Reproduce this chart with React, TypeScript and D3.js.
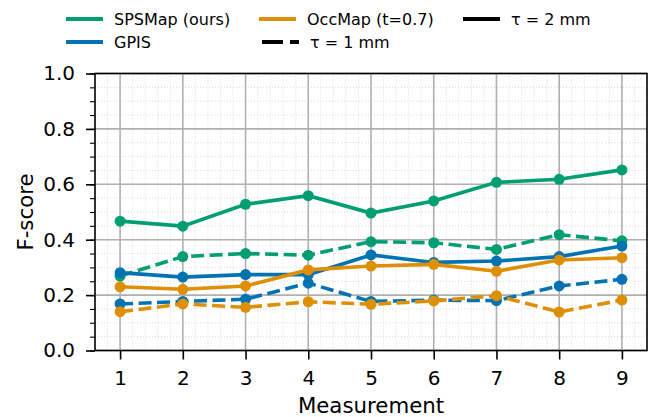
import * as d3 from "d3";
import { useEffect, useRef } from "react";

const measurements = [1, 2, 3, 4, 5, 6, 7, 8, 9];
const spsSolid = [0.467, 0.449, 0.528, 0.559, 0.496, 0.54, 0.607, 0.618, 0.652];
const spsDashed = [0.269, 0.339, 0.35, 0.344, 0.393, 0.389, 0.365, 0.418, 0.396];
const gpisSolid = [0.281, 0.265, 0.274, 0.274, 0.345, 0.318, 0.323, 0.339, 0.377];
const gpisDashed = [0.168, 0.177, 0.185, 0.243, 0.177, 0.182, 0.18, 0.233, 0.257];
const occSolid = [0.23, 0.221, 0.233, 0.291, 0.305, 0.311, 0.286, 0.327, 0.335];
const occDashed = [0.14, 0.168, 0.156, 0.176, 0.167, 0.179, 0.198, 0.139, 0.182];
const yTicks = [0, 0.2, 0.4, 0.6, 0.8, 1.0];

const GREEN = "#029e73";
const BLUE = "#0173b2";
const ORANGE = "#de8f05";
const FONT = "DejaVu Sans, sans-serif";

const series = [
  { values: spsSolid, color: GREEN, dashed: false },
  { values: spsDashed, color: GREEN, dashed: true },
  { values: gpisSolid, color: BLUE, dashed: false },
  { values: gpisDashed, color: BLUE, dashed: true },
  { values: occSolid, color: ORANGE, dashed: false },
  { values: occDashed, color: ORANGE, dashed: true },
];

const App = () => {
  const svgRef = useRef<SVGSVGElement>(null);

  useEffect(() => {
    const width = 657;
    const height = 417;
    const margin = { top: 73.5, right: 10, bottom: 66.5, left: 95 };

    const svg = d3.select(svgRef.current).attr("width", width).attr("height", height);
    svg.selectAll("*").remove();

    const x = d3.scaleLinear().domain([0.6, 9.4]).range([margin.left, width - margin.right]);
    const y = d3.scaleLinear().domain([0, 1]).range([height - margin.bottom, margin.top]);

    const [x0, x1] = x.range();
    const [y0, y1] = y.range();

    // minor grid
    const grid = svg.append("g");
    d3.range(0.6, 9.41, 0.2).forEach((v) => {
      grid.append("line")
        .attr("x1", x(v)).attr("x2", x(v)).attr("y1", y0).attr("y2", y1)
        .attr("stroke", "#d0d0d0").attr("stroke-width", 0.8).attr("stroke-dasharray", "1,2");
    });
    d3.range(0, 1.001, 0.05).forEach((v) => {
      grid.append("line")
        .attr("x1", x0).attr("x2", x1).attr("y1", y(v)).attr("y2", y(v))
        .attr("stroke", "#d0d0d0").attr("stroke-width", 0.8).attr("stroke-dasharray", "1,2");
    });
    // major grid
    measurements.forEach((m) => {
      grid.append("line")
        .attr("x1", x(m)).attr("x2", x(m)).attr("y1", y0).attr("y2", y1)
        .attr("stroke", "#b0b0b0").attr("stroke-width", 1.6);
    });
    yTicks.forEach((t) => {
      grid.append("line")
        .attr("x1", x0).attr("x2", x1).attr("y1", y(t)).attr("y2", y(t))
        .attr("stroke", "#b0b0b0").attr("stroke-width", 1.6);
    });

    // series
    const line = d3.line<number>().x((_, i) => x(measurements[i])).y((d) => y(d));
    series.forEach((s) => {
      const g = svg.append("g");
      g.append("path")
        .attr("d", line(s.values))
        .attr("fill", "none")
        .attr("stroke", s.color)
        .attr("stroke-width", 3.6)
        .attr("stroke-dasharray", s.dashed ? "13,5.5" : null);
      g.selectAll("circle")
        .data(s.values)
        .enter()
        .append("circle")
        .attr("cx", (_, i) => x(measurements[i]))
        .attr("cy", (d) => y(d))
        .attr("r", 5.5)
        .attr("fill", s.color);
    });

    // spines
    svg.append("rect")
      .attr("x", x0).attr("y", y1).attr("width", x1 - x0).attr("height", y0 - y1)
      .attr("fill", "none").attr("stroke", "black").attr("stroke-width", 1.6);

    // axes
    const xAxis = svg.append("g")
      .attr("transform", `translate(0, ${y0})`)
      .call(d3.axisBottom(x).tickValues(measurements).tickSize(9).tickPadding(11).tickFormat(d3.format("d")));
    const yMinor = svg.append("g")
      .attr("transform", `translate(${x0}, 0)`)
      .call(d3.axisLeft(y).tickValues(d3.range(0, 1.001, 0.05)).tickSize(5).tickFormat(() => ""));
    const yAxis = svg.append("g")
      .attr("transform", `translate(${x0}, 0)`)
      .call(d3.axisLeft(y).tickValues(yTicks).tickSize(9).tickPadding(11).tickFormat(d3.format(".1f")));

    [xAxis, yAxis, yMinor].forEach((a) => {
      a.select(".domain").remove();
      a.selectAll("line").attr("stroke", "black").attr("stroke-width", 1.6);
      a.selectAll("text").attr("font-family", FONT).attr("font-size", 20).attr("fill", "black");
    });
    yMinor.selectAll("line").attr("stroke-width", 1.1);

    svg.append("text")
      .attr("x", (x0 + x1) / 2).attr("y", 413)
      .attr("text-anchor", "middle")
      .attr("font-family", FONT).attr("font-size", 21.3)
      .text("Measurement");
    svg.append("text")
      .attr("transform", `translate(33, ${(y0 + y1) / 2}) rotate(-90)`)
      .attr("text-anchor", "middle")
      .attr("font-family", FONT).attr("font-size", 21.3)
      .text("F-score");

    // legend
    const legend = [
      { label: "SPSMap (ours)", color: GREEN, dash: null, lx: 66, ly: 19 },
      { label: "GPIS", color: BLUE, dash: null, lx: 66, ly: 42 },
      { label: "OccMap (t=0.7)", color: ORANGE, dash: null, lx: 259, ly: 19 },
      { label: "τ = 1 mm", color: "black", dash: "21,7", lx: 262, ly: 42 },
      { label: "τ = 2 mm", color: "black", dash: null, lx: 463, ly: 19 },
    ];
    legend.forEach((l) => {
      svg.append("line")
        .attr("x1", l.lx).attr("x2", l.lx + 37).attr("y1", l.ly).attr("y2", l.ly)
        .attr("stroke", l.color).attr("stroke-width", 4)
        .attr("stroke-dasharray", l.dash);
      svg.append("text")
        .attr("x", l.lx + 48).attr("y", l.ly).attr("dy", "0.35em")
        .attr("font-family", FONT).attr("font-size", 16)
        .text(l.label);
    });
  }, []);

  return <svg ref={svgRef} style={{ position: "absolute", left: 0, top: 0 }}></svg>;
};

export default App;
